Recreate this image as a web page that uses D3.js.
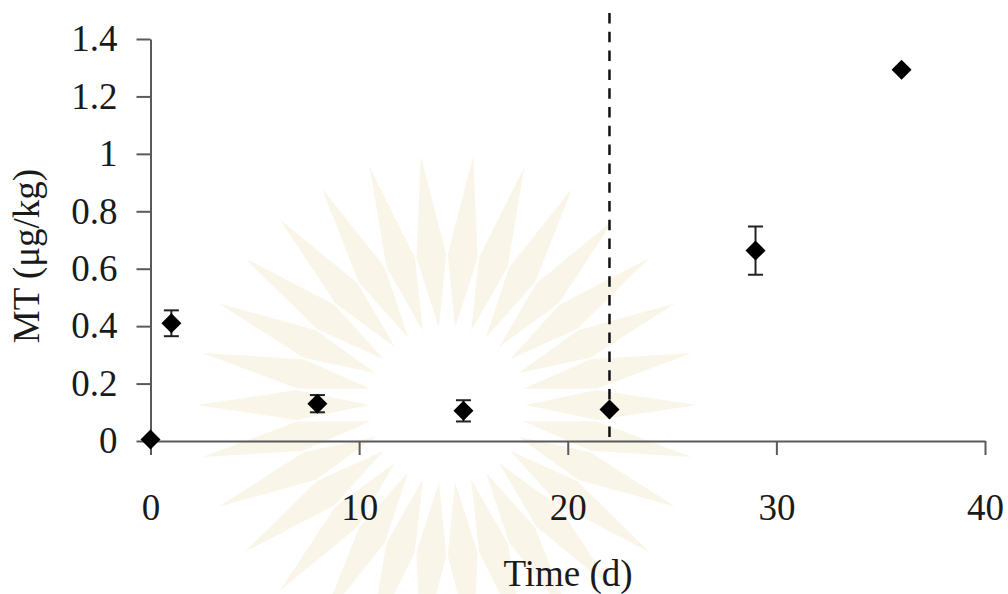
<!DOCTYPE html>
<html>
<head>
<meta charset="utf-8">
<script src="https://cdn.jsdelivr.net/npm/d3@7"></script>
<style>
  body { margin: 0; background: #fff; }
  svg { display: block; }
  text { font-family: "Liberation Serif", "Times New Roman", serif; fill: #1a1a1a; }
</style>
</head>
<body>
<div id="chart"></div>
<script>
/* global d3 */

// data
const days = [0, 1, 8, 15, 22, 29, 36]
const mt = [0.005, 0.41, 0.13, 0.105, 0.11, 0.663, 1.293]
const sd = [0, 0.045, 0.03, 0.037, 0, 0.084, 0]
const xTicks = [0, 10, 20, 30, 40]
const yTicks = [0, 0.2, 0.4, 0.6, 0.8, 1, 1.2, 1.4]
const yTickLabels = ['0', '0.2', '0.4', '0.6', '0.8', '1', '1.2', '1.4']
const markerDay = 22

const width = 1008,
  height = 594

const xScale = d3.scaleLinear()
  .domain([0, 40])
  .range([150.5, 985])

const yScale = d3.scaleLinear()
  .domain([0, 1.4])
  .range([441, 39])

let svg = d3.select('#chart')
  .append('svg')
  .attr('width', width)
  .attr('height', height)

// faint watermark behind the chart
let wm = svg.append('g')
  .attr('transform', 'translate(447,405)')
let rayAngles = d3.range(-180, 180, 12)
wm.selectAll('path')
  .data(rayAngles)
  .enter()
  .append('path')
  .attr('d', 'M78,0 L150,-15 L250,0 L150,15 Z')
  .attr('transform', d => 'rotate(' + d + ')')
  .attr('fill', '#f6efda')
  .attr('opacity', 0.6)
wm.append('circle')
  .attr('r', 74)
  .attr('fill', '#fff')

// axes
const axisL = d3.axisLeft(yScale)
  .tickValues(yTicks)
  .tickFormat((d, i) => yTickLabels[i])
  .tickSize(14)
  .tickSizeOuter(0)
  .tickPadding(19)

const axisB = d3.axisBottom(xScale)
  .tickValues(xTicks)
  .tickFormat(d3.format('d'))
  .tickSize(14)
  .tickSizeOuter(0)
  .tickPadding(39)

let gy = svg.append('g')
  .attr('transform', 'translate(150.5,0)')
  .call(axisL)

let gx = svg.append('g')
  .attr('transform', 'translate(0,441)')
  .call(axisB)

svg.selectAll('.domain, .tick line')
  .attr('stroke', '#5a5a5a')
  .attr('stroke-width', 2)
svg.selectAll('.tick text')
  .attr('font-size', 37)
  .attr('font-family', '"Liberation Serif", serif')
  .attr('fill', '#1a1a1a')

// dashed marker line
svg.append('line')
  .attr('x1', xScale(markerDay))
  .attr('x2', xScale(markerDay))
  .attr('y1', 13)
  .attr('y2', yScale(0))
  .attr('stroke', '#111')
  .attr('stroke-width', 2.5)
  .attr('stroke-dasharray', '10.5,8.3')

// error bars
let pts = days.map((d, i) => ({ x: d, y: mt[i], e: sd[i] }))
let eb = svg.append('g')
  .selectAll('g')
  .data(pts.filter(p => p.e > 0))
  .enter()
  .append('g')
  .attr('stroke', '#222')
  .attr('stroke-width', 2)
eb.append('line')
  .attr('x1', d => xScale(d.x))
  .attr('x2', d => xScale(d.x))
  .attr('y1', d => yScale(d.y + d.e))
  .attr('y2', d => yScale(d.y - d.e))
eb.append('line')
  .attr('x1', d => xScale(d.x) - 7.5)
  .attr('x2', d => xScale(d.x) + 7.5)
  .attr('y1', d => yScale(d.y + d.e))
  .attr('y2', d => yScale(d.y + d.e))
eb.append('line')
  .attr('x1', d => xScale(d.x) - 7.5)
  .attr('x2', d => xScale(d.x) + 7.5)
  .attr('y1', d => yScale(d.y - d.e))
  .attr('y2', d => yScale(d.y - d.e))

// diamonds
svg.append('g')
  .selectAll('path')
  .data(pts)
  .enter()
  .append('path')
  .attr('d', d3.symbol(d3.symbolSquare, 200))
  .attr('transform', d => 'translate(' + xScale(d.x) + ',' + yScale(d.y) + ') rotate(45)')
  .attr('fill', '#000')

// axis titles
svg.append('text')
  .attr('x', 568)
  .attr('y', 586)
  .attr('text-anchor', 'middle')
  .attr('font-size', 37)
  .text('Time (d)')

svg.append('text')
  .attr('transform', 'translate(39,256) rotate(-90)')
  .attr('text-anchor', 'middle')
  .attr('font-size', 37)
  .text('MT (μg/kg)')
</script>
</body>
</html>
